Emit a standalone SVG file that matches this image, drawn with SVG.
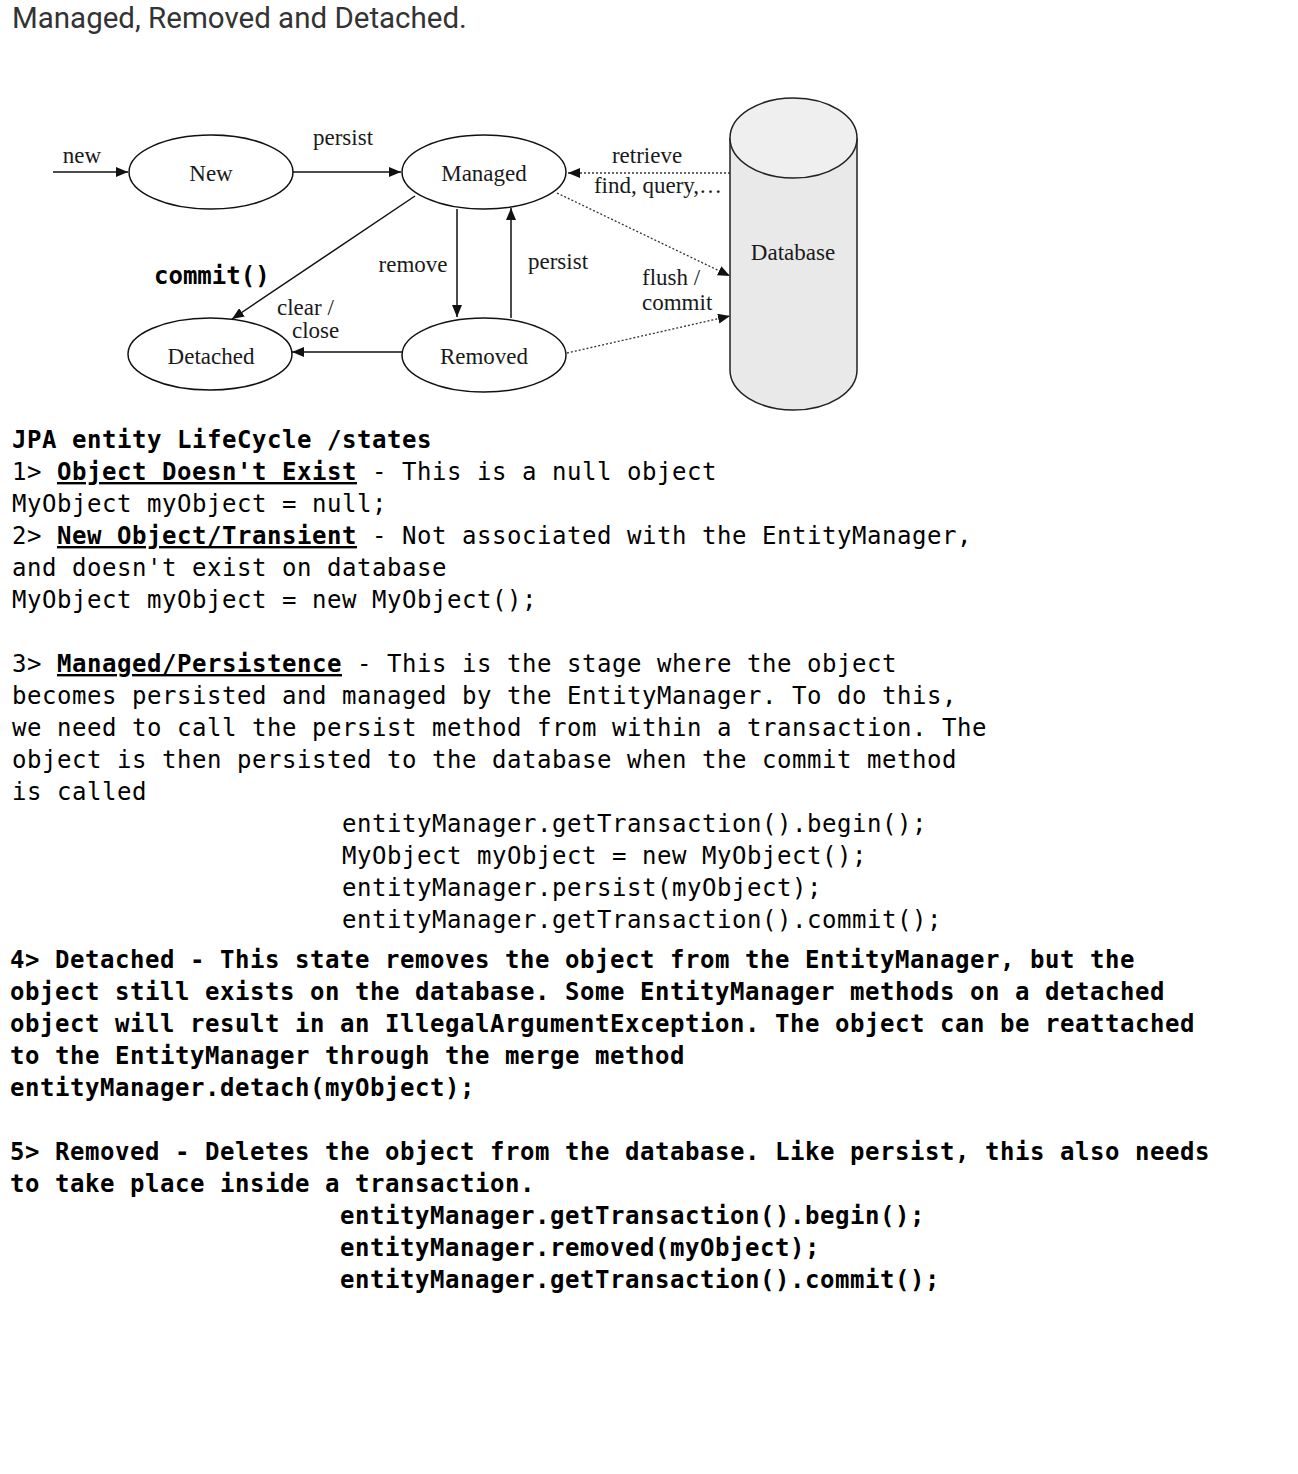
<svg xmlns="http://www.w3.org/2000/svg" width="1298" height="1474" viewBox="0 0 1298 1474">
<style>
.st{fill:#fff;stroke:#111;stroke-width:1.5}
.lbl{font-family:"Liberation Serif","Times New Roman",serif;font-size:23px;fill:#1a1a1a}
.mid{text-anchor:middle}
.ln{stroke:#111;stroke-width:1.5;fill:none}
.dot{stroke:#333;stroke-width:1.3;fill:none;stroke-dasharray:2,2}
.mono{font-family:"DejaVu Sans Mono","Liberation Mono",monospace;font-size:24px;letter-spacing:0.55px;fill:#000}
.b{font-weight:bold}
.u{text-decoration:underline}
</style>
<defs>
<marker id="ah" viewBox="0 0 12 10" refX="12" refY="5" markerWidth="12" markerHeight="10" markerUnits="userSpaceOnUse" orient="auto">
<path d="M0,0 L12,5 L0,10 z" fill="#111"/>
</marker>
</defs>
<rect width="1298" height="1474" fill="#fff"/>
<text x="12" y="28" font-family="Roboto,'Liberation Sans',sans-serif" font-size="29.5" fill="#333">Managed, Removed and Detached.</text>

<g id="connectors">
<line class="ln" x1="53" y1="172" x2="128" y2="172" marker-end="url(#ah)"/>
<line class="ln" x1="293" y1="172" x2="401" y2="172" marker-end="url(#ah)"/>
<line class="dot" x1="730" y1="173" x2="568" y2="173" marker-end="url(#ah)"/>
<line class="dot" x1="557" y1="193" x2="730" y2="276" marker-end="url(#ah)"/>
<line class="dot" x1="567" y1="353" x2="730" y2="316" marker-end="url(#ah)"/>
<line class="ln" x1="457" y1="209" x2="457" y2="317" marker-end="url(#ah)"/>
<line class="ln" x1="511" y1="318" x2="511" y2="208" marker-end="url(#ah)"/>
<line class="ln" x1="415" y1="196" x2="232" y2="319" marker-end="url(#ah)"/>
<line class="ln" x1="402" y1="352" x2="292" y2="352" marker-end="url(#ah)"/>
<text class="lbl mid" x="82" y="163">new</text>
<text class="lbl mid" x="343" y="145">persist</text>
<text class="lbl mid" x="647" y="163">retrieve</text>
<text class="lbl mid" x="658" y="193">find, query,…</text>
<text class="lbl mid" x="413" y="272">remove</text>
<text class="lbl mid" x="558" y="269">persist</text>
<text class="lbl" x="642" y="285">flush /</text>
<text class="lbl" x="642" y="310">commit</text>
<text class="lbl" x="277" y="315">clear /</text>
<text class="lbl" x="292" y="338">close</text>
<text x="154" y="284" font-family="'DejaVu Sans Mono','Liberation Mono',monospace" font-size="24" font-weight="bold" fill="#000">commit()</text>
</g>

<g id="node-new">
<ellipse class="st" cx="211" cy="172" rx="82" ry="37"/>
<text class="lbl mid" x="211" y="181">New</text>
</g>
<g id="node-managed">
<ellipse class="st" cx="484" cy="172" rx="82" ry="37"/>
<text class="lbl mid" x="484" y="181">Managed</text>
</g>
<g id="node-removed">
<ellipse class="st" cx="484" cy="355" rx="82" ry="37"/>
<text class="lbl mid" x="484" y="364">Removed</text>
</g>
<g id="node-detached">
<ellipse class="st" cx="210" cy="354" rx="82" ry="36"/>
<text class="lbl mid" x="211" y="364">Detached</text>
</g>
<g id="node-database">
<path d="M730,138 L730,370 A63.5,40 0 0 0 857,370 L857,138" fill="#e9e9e9" stroke="#222" stroke-width="1.5"/>
<ellipse cx="793.5" cy="138" rx="63.5" ry="40" fill="#efefef" stroke="#222" stroke-width="1.5"/>
<text class="lbl mid" x="793" y="260">Database</text>
</g>

<g id="text-body">
<text class="mono b" x="12" y="448">JPA entity LifeCycle /states</text>
<text class="mono" x="12" y="480">1&gt; <tspan class="b u">Object Doesn't Exist</tspan> - This is a null object</text>
<text class="mono" x="12" y="512">MyObject myObject = null;</text>
<text class="mono" x="12" y="544">2&gt; <tspan class="b u">New Object/Transient</tspan> - Not associated with the EntityManager,</text>
<text class="mono" x="12" y="576">and doesn't exist on database</text>
<text class="mono" x="12" y="608">MyObject myObject = new MyObject();</text>
<text class="mono" x="12" y="672">3&gt; <tspan class="b u">Managed/Persistence</tspan> - This is the stage where the object</text>
<text class="mono" x="12" y="704">becomes persisted and managed by the EntityManager. To do this,</text>
<text class="mono" x="12" y="736">we need to call the persist method from within a transaction. The</text>
<text class="mono" x="12" y="768">object is then persisted to the database when the commit method</text>
<text class="mono" x="12" y="800">is called</text>
<text class="mono" x="342" y="832">entityManager.getTransaction().begin();</text>
<text class="mono" x="342" y="864">MyObject myObject = new MyObject();</text>
<text class="mono" x="342" y="896">entityManager.persist(myObject);</text>
<text class="mono" x="342" y="928">entityManager.getTransaction().commit();</text>
<text class="mono b" x="10" y="968">4&gt; Detached - This state removes the object from the EntityManager, but the</text>
<text class="mono b" x="10" y="1000">object still exists on the database. Some EntityManager methods on a detached</text>
<text class="mono b" x="10" y="1032">object will result in an IllegalArgumentException. The object can be reattached</text>
<text class="mono b" x="10" y="1064">to the EntityManager through the merge method</text>
<text class="mono b" x="10" y="1096">entityManager.detach(myObject);</text>
<text class="mono b" x="10" y="1160">5&gt; Removed - Deletes the object from the database. Like persist, this also needs</text>
<text class="mono b" x="10" y="1192">to take place inside a transaction.</text>
<text class="mono b" x="340" y="1224">entityManager.getTransaction().begin();</text>
<text class="mono b" x="340" y="1256">entityManager.removed(myObject);</text>
<text class="mono b" x="340" y="1288">entityManager.getTransaction().commit();</text>
</g>
</svg>
